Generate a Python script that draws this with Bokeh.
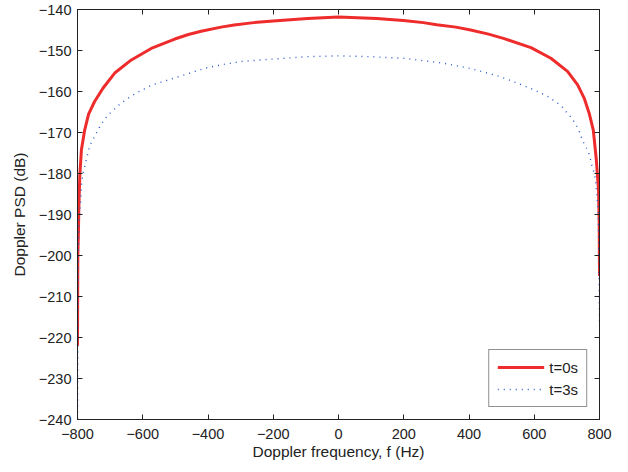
from bokeh.plotting import figure
from bokeh.models import LinearAxis, Range1d, FixedTicker, Legend, LegendItem
from bokeh.embed import file_html
from bokeh.resources import INLINE

# t = 0 s  (red, solid)
f_t0 = [-800, -799, -797, -796, -793, -788, -778, -766, -748, -722, -686, -635, -574, -502, -460, -421, -360, -320, -260, -200, -95,
        0, 117, 199, 260, 301, 360, 405, 460, 508, 590, 651, 702, 733, 753, 769, 781, 790, 797, 799, 800]
psd_t0 = [-222, -200, -193.6, -188.8, -180.7, -174.2, -169.4, -165.5, -162.5, -159.2, -155.5, -152.3, -149.5, -147.2, -146.1, -145.3, -144.3, -143.8, -143.2, -142.8, -142.2,
          -141.8, -142.2, -142.7, -143.2, -143.7, -144.3, -145.0, -146.0, -147.1, -149.3, -151.9, -155.1, -158.4, -161.6, -165.5, -169.4, -176.4, -184.0, -191.4, -205]

# t = 3 s  (blue, dotted)
f_t3 = [-800, -799.5, -798, -796, -794, -792, -790, -788, -786, -783, -778, -773, -768, -763, -755, -745, -737, -724, -712, -697,
        -666, -625, -574, -523, -471, -413, -361, -300, -238, -167, -95,
        0, 97, 199, 261, 322, 405, 493, 549, 600, 641, 682, 697, 713, 724, 735, 741, 748, 759, 767, 772, 777, 784, 788, 790, 792,
        795, 796, 798, 800]
psd_t3 = [-250, -230, -205, -193, -191, -188.4, -186.5, -183.1, -181.5, -179.9, -178.3, -176.6, -175.0, -173.4, -172.0, -170.6, -169.3, -167.6, -166.3, -165.0,
          -162.8, -160.6, -158.5, -157.2, -155.9, -154.4, -153.5, -152.7, -152.3, -151.9, -151.5,
          -151.3, -151.5, -151.9, -152.5, -153.1, -154.4, -156.3, -158.0, -159.6, -161.2, -163.4, -164.9, -166.3, -167.6, -169.1, -170.4, -172.0, -173.6, -175.0, -176.4, -178.2, -179.9, -181.7, -183.5, -185.0,
          -188.4, -190.0, -200.0, -217.0]

x_ticks = [-800, -600, -400, -200, 0, 200, 400, 600, 800]
y_ticks = [-240, -230, -220, -210, -200, -190, -180, -170, -160, -150, -140]

FONT = "Liberation Sans"

p = figure(width=612, height=464, output_backend="svg", toolbar_location=None,
           x_range=Range1d(-800, 800), y_range=Range1d(-240, -140),
           min_border_left=77, min_border_right=13, min_border_top=9, min_border_bottom=45)
p.background_fill_color = "white"
p.border_fill_color = "white"
p.outline_line_color = "#222222"
p.outline_line_width = 1
p.grid.visible = False

r0 = p.line(f_t0, psd_t0, line_color="#ee2c2c", line_width=3, line_join="round")
r3 = p.line(f_t3, psd_t3, line_color="#2a58cc", line_width=1.4, line_dash="1 5")

def style(ax):
    ax.major_tick_in = 5
    ax.major_tick_out = 0
    ax.minor_tick_line_color = None
    ax.axis_line_color = "#222222"
    ax.major_tick_line_color = "#222222"
    ax.major_label_text_font = FONT
    ax.major_label_text_font_size = "14.5px"
    ax.major_label_text_color = "#222222"
    ax.axis_label_text_font = FONT
    ax.axis_label_text_font_size = "15.5px"
    ax.axis_label_text_font_style = "normal"
    ax.axis_label_text_color = "#222222"

p.xaxis.ticker = FixedTicker(ticks=x_ticks)
p.yaxis.ticker = FixedTicker(ticks=y_ticks)
p.xaxis.axis_label = "Doppler frequency, f (Hz)"
p.yaxis.axis_label = "Doppler PSD (dB)"
p.xaxis.major_label_overrides = {t: str(t).replace("-", "\u2212") for t in x_ticks}
p.yaxis.major_label_overrides = {t: str(t).replace("-", "\u2212") for t in y_ticks}
style(p.xaxis[0])
style(p.yaxis[0])
p.xaxis.major_label_standoff = 9
p.yaxis.major_label_standoff = 6
p.xaxis.axis_label_standoff = 1
p.yaxis.axis_label_standoff = 8

top = LinearAxis(ticker=FixedTicker(ticks=x_ticks), major_label_overrides={t: "" for t in x_ticks})
style(top)
top.major_label_standoff = 0
p.add_layout(top, "above")
right = LinearAxis(ticker=FixedTicker(ticks=y_ticks), major_label_overrides={t: "" for t in y_ticks})
style(right)
right.major_label_standoff = 0
p.add_layout(right, "right")

legend = Legend(items=[LegendItem(label="t=0s", renderers=[r0]),
                       LegendItem(label="t=3s", renderers=[r3])],
                location="bottom_right")
legend.label_text_font = FONT
legend.label_text_font_size = "15px"
legend.label_text_color = "#222222"
legend.border_line_color = "#222222"
legend.border_line_width = 1
legend.glyph_width = 47
legend.glyph_height = 18
legend.label_height = 18
legend.label_standoff = 5
legend.spacing = 4
legend.padding = 8
legend.margin = 12
legend.background_fill_alpha = 1
p.add_layout(legend)

open("out.html", "w").write(file_html(p, INLINE))
